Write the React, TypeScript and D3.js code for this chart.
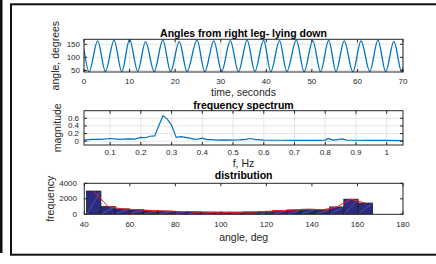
import React from 'react';
import * as d3 from 'd3';

const W = 436;
const H = 264;

// leg angle trace: start, alternating troughs / peaks, end (seconds, degrees)
const angleTimes = [0, 1.1, 3.0, 4.7, 6.6, 8.3, 10.0, 11.8, 13.5, 15.4, 17.3, 19.0, 20.9, 22.6, 24.8, 26.5, 28.5, 30.2, 32.1, 33.9, 35.8, 37.5, 39.4, 41.0, 42.9, 44.5, 46.6, 48.3, 50.2, 51.9, 53.7, 55.3, 57.1, 59.0, 60.8, 62.7, 64.5, 66.2, 68.0, 69.7, 70];
const angleValues = [130, 45, 163, 46, 165, 45, 168, 47, 160, 46, 166, 45, 160, 46, 166, 45, 163, 46, 164, 45, 166, 46, 165, 45, 164, 46, 166, 45, 164, 45, 165, 46, 163, 45, 163, 46, 166, 45, 161, 45, 62];

// spectrum
const freqs = [0.015, 0.04, 0.07, 0.1, 0.13, 0.16, 0.18, 0.2, 0.215, 0.23, 0.245, 0.258, 0.272, 0.286, 0.3, 0.315, 0.33, 0.345, 0.36, 0.375, 0.39, 0.4, 0.415, 0.43, 0.45, 0.47, 0.5, 0.52, 0.54, 0.555, 0.57, 0.6, 0.63, 0.66, 0.7, 0.74, 0.78, 0.8, 0.81, 0.825, 0.84, 0.855, 0.87, 0.9, 0.95, 1.0, 1.053];
const mags = [0.03, 0.045, 0.05, 0.07, 0.05, 0.06, 0.055, 0.1, 0.09, 0.13, 0.14, 0.4, 0.67, 0.58, 0.42, 0.1, 0.12, 0.1, 0.08, 0.05, 0.06, 0.08, 0.04, 0.04, 0.03, 0.035, 0.03, 0.035, 0.05, 0.07, 0.05, 0.03, 0.025, 0.025, 0.02, 0.02, 0.02, 0.03, 0.07, 0.03, 0.04, 0.06, 0.03, 0.025, 0.02, 0.02, 0.015];

// histogram of angles
const binEdges = [41.0, 47.3, 53.6, 59.8, 66.1, 72.4, 78.7, 85.0, 91.2, 97.5, 103.8, 110.1, 116.4, 122.6, 128.9, 135.2, 141.5, 147.8, 154.0, 160.3, 166.6];
const binCounts = [3000, 1000, 700, 600, 500, 420, 360, 320, 280, 270, 270, 300, 370, 460, 560, 650, 580, 950, 1950, 1450];

const tTicks = [0, 10, 20, 30, 40, 50, 60, 70];
const angTicks = [50, 100, 150];
const fTicks = [0.1, 0.2, 0.3, 0.4, 0.5, 0.6, 0.7, 0.8, 0.9, 1];
const magTicks = [0, 0.2, 0.4, 0.6];
const degTicks = [40, 60, 80, 100, 120, 140, 160, 180];
const freqTicks = [0, 2000, 4000];

const FONT = '"Liberation Sans", Arial, Helvetica, sans-serif';
const AX = '#262626';

type AxesProps = {
  id: string;
  x: d3.ScaleLinear<number, number>;
  y: d3.ScaleLinear<number, number>;
  xTicks: number[];
  yTicks: number[];
  grid: boolean;
  title: string;
  xLabel: string;
  yLabel: string;
  titleY: number;
  xTickY: number;
  xLabelY: number;
  yTickX: number;
  yLabelX: number;
  children?: React.ReactNode;
};

function Axes(p: AxesProps) {
  const [x0, x1] = p.x.range();
  const [y0, y1] = p.y.range(); // y0 bottom, y1 top
  const tl = 3;
  const cx = (x0 + x1) / 2;
  const cy = (y0 + y1) / 2;
  return (
    <g>
      <defs>
        <clipPath id={p.id}>
          <rect x={x0} y={y1} width={x1 - x0} height={y0 - y1} />
        </clipPath>
      </defs>
      <rect x={x0} y={y1} width={x1 - x0} height={y0 - y1} fill="#fff" />
      {p.grid && (
        <g stroke="#dedede" strokeWidth={0.8}>
          {p.xTicks.map(t => (
            <line key={'gx' + t} x1={p.x(t)} x2={p.x(t)} y1={y1} y2={y0} />
          ))}
          {p.yTicks.map(t => (
            <line key={'gy' + t} x1={x0} x2={x1} y1={p.y(t)} y2={p.y(t)} />
          ))}
        </g>
      )}
      <g clipPath={`url(#${p.id})`}>{p.children}</g>
      <rect x={x0} y={y1} width={x1 - x0} height={y0 - y1} fill="none" stroke={AX} strokeWidth={1} />
      <g stroke={AX} strokeWidth={1}>
        {p.xTicks.map(t => (
          <g key={'tx' + t}>
            <line x1={p.x(t)} x2={p.x(t)} y1={y0} y2={y0 - tl} />
            <line x1={p.x(t)} x2={p.x(t)} y1={y1} y2={y1 + tl} />
          </g>
        ))}
        {p.yTicks.map(t => (
          <g key={'ty' + t}>
            <line x1={x0} x2={x0 + tl} y1={p.y(t)} y2={p.y(t)} />
            <line x1={x1} x2={x1 - tl} y1={p.y(t)} y2={p.y(t)} />
          </g>
        ))}
      </g>
      <g fontFamily={FONT} fontSize={8} fill={AX}>
        {p.xTicks.map(t => (
          <text key={'lx' + t} x={p.x(t)} y={p.xTickY} textAnchor="middle" dominantBaseline="central">
            {String(t)}
          </text>
        ))}
        {p.yTicks.map(t => (
          <text key={'ly' + t} x={p.yTickX} y={p.y(t)} textAnchor="end" dominantBaseline="central">
            {String(t)}
          </text>
        ))}
      </g>
      <text x={cx} y={p.titleY} textAnchor="middle" dominantBaseline="central" fontFamily={FONT} fontSize={10.5} fontWeight="bold" fill="#000">
        {p.title}
      </text>
      <text x={cx} y={p.xLabelY} textAnchor="middle" dominantBaseline="central" fontFamily={FONT} fontSize={10.5} fill={AX}>
        {p.xLabel}
      </text>
      <text
        transform={`translate(${p.yLabelX},${cy}) rotate(-90)`}
        textAnchor="middle"
        dominantBaseline="central"
        fontFamily={FONT}
        fontSize={10.5}
        fill={AX}
      >
        {p.yLabel}
      </text>
    </g>
  );
}

export default function App() {
  // panel 1: time series
  const xT = d3.scaleLinear().domain([0, 70]).range([84, 403]);
  const yA = d3.scaleLinear().domain([44, 169]).range([72, 39.3]);
  const anglePts = angleTimes.map((t, i) => [t, angleValues[i]] as [number, number]);
  const angleLine = d3
    .line<[number, number]>()
    .x(d => xT(d[0]))
    .y(d => yA(d[1]))
    .curve(d3.curveMonotoneX);

  // panel 2: spectrum
  const xF = d3.scaleLinear().domain([0.015, 1.053]).range([84, 403]);
  const yM = d3.scaleLinear().domain([-0.1, 0.8]).range([145, 110.7]);
  const specPts = freqs.map((f, i) => [f, mags[i]] as [number, number]);
  const specLine = d3
    .line<[number, number]>()
    .x(d => xF(d[0]))
    .y(d => yM(d[1]));

  // panel 3: histogram
  const xD = d3.scaleLinear().domain([40, 180]).range([84.3, 403]);
  const yC = d3.scaleLinear().domain([0, 4000]).range([214.3, 183.3]);
  const bins = binCounts.map((c, i) => ({ x0: binEdges[i], x1: binEdges[i + 1], c }));
  const redLine = d3
    .line<{ x0: number; x1: number; c: number }>()
    .x(d => xD((d.x0 + d.x1) / 2))
    .y(d => yC(d.c));

  return (
    <div style={{ position: 'absolute', left: 0, top: 0 }}>
      <svg width={W} height={H} viewBox={`0 0 ${W} ${H}`} style={{ display: 'block', background: '#fff' }}>
        <rect x={0} y={0} width={2.5} height={253} fill="#111" />
        <rect x={11} y={4.3} width={440} height={250.4} fill="#fff" stroke="#111" strokeWidth={2} />

        <Axes
          id="c1"
          x={xT}
          y={yA}
          xTicks={tTicks}
          yTicks={angTicks}
          grid
          title="Angles from right leg- lying down"
          xLabel="time, seconds"
          yLabel="angle, degrees"
          titleY={33}
          xTickY={81}
          xLabelY={92}
          yTickX={80}
          yLabelX={55}
        >
          <path d={angleLine(anglePts) || ''} fill="none" stroke="#0072BD" strokeWidth={1.3} />
        </Axes>

        <Axes
          id="c2"
          x={xF}
          y={yM}
          xTicks={fTicks}
          yTicks={magTicks}
          grid
          title="frequency spectrum"
          xLabel="f, Hz"
          yLabel="magnitude"
          titleY={104.7}
          xTickY={152.5}
          xLabelY={162.7}
          yTickX={79}
          yLabelX={57}
        >
          <path d={specLine(specPts) || ''} fill="none" stroke="#0072BD" strokeWidth={1.2} />
        </Axes>

        <Axes
          id="c3"
          x={xD}
          y={yC}
          xTicks={degTicks}
          yTicks={freqTicks}
          grid={false}
          title="distribution"
          xLabel="angle, deg"
          yLabel="frequency"
          titleY={175}
          xTickY={224.3}
          xLabelY={236.5}
          yTickX={77}
          yLabelX={49.5}
        >
          {bins.map((b, i) => (
            <g key={i}>
              <rect
                x={xD(b.x0)}
                y={yC(b.c)}
                width={xD(b.x1) - xD(b.x0)}
                height={yC(0) - yC(b.c)}
                fill="#2d2b80"
                stroke="#1a1a1a"
                strokeWidth={0.8}
              />
              <line
                x1={xD(b.x0)}
                y1={yC(0)}
                x2={xD(b.x1)}
                y2={yC(b.c)}
                stroke="#ffffff"
                strokeOpacity={0.3}
                strokeWidth={0.6}
              />
            </g>
          ))}
          <path d={redLine(bins) || ''} fill="none" stroke="#ff2020" strokeWidth={1} />
        </Axes>
      </svg>
    </div>
  );
}
